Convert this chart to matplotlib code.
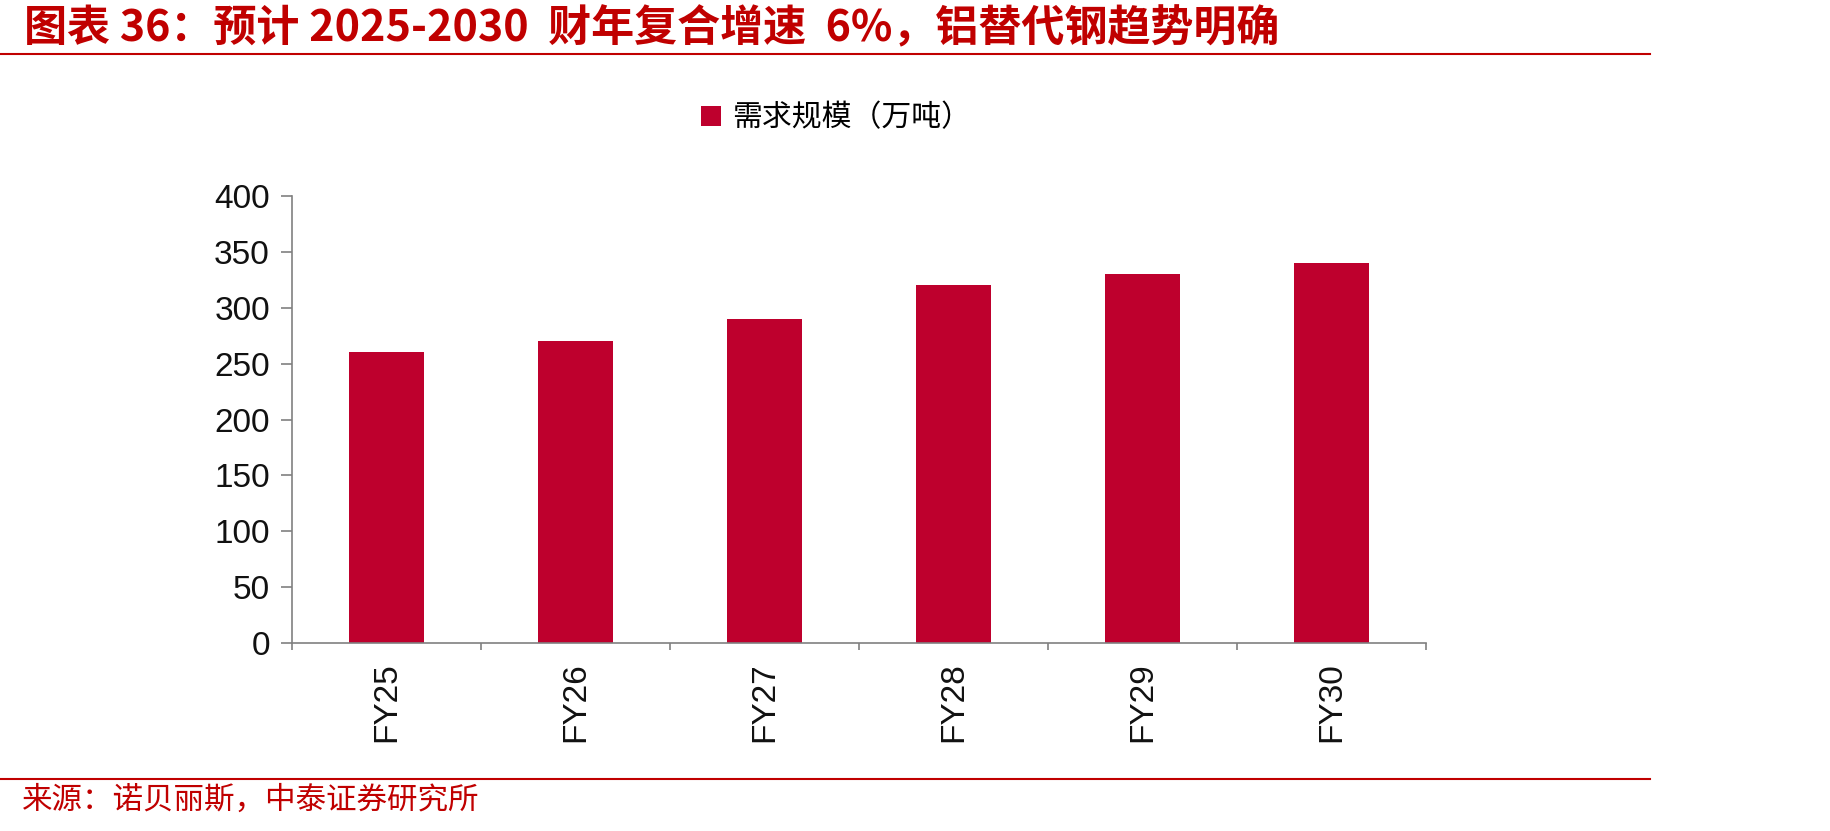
import matplotlib
matplotlib.use("Agg")
import matplotlib.pyplot as plt
from matplotlib.lines import Line2D
from matplotlib.patches import Patch
import numpy as np

plt.rcParams['font.family'] = ['Liberation Sans', 'Noto Sans CJK SC', 'DejaVu Sans']

categories = ["FY25", "FY26", "FY27", "FY28", "FY29", "FY30"]
values = [260, 270, 290, 320, 330, 340]
yticks = [0, 50, 100, 150, 200, 250, 300, 350, 400]
series_name = "需求规模（万吨）"
title = "图表 36：预计 2025-2030  财年复合增速  6%，铝替代钢趋势明确"
source = "来源：诺贝丽斯，中泰证券研究所"

RED = '#C00000'
BAR = '#BE002D'

fig = plt.figure(figsize=(18.3, 8.31), dpi=100)
ax = fig.add_axes([0.1596, 0.2262, 0.6197, 0.5379])

x = np.arange(len(categories))
ax.bar(x, values, width=0.40, color=BAR, label=series_name, zorder=2)

ax.set_xlim(-0.5, len(categories) - 0.5)
ax.set_ylim(0, 400)
ax.set_yticks(yticks)
ax.set_yticklabels([str(v) for v in yticks], fontsize=24, color='#111111')
ax.set_xticks(x)
ax.set_xticklabels(categories, rotation=90, fontsize=24, color='#111111')
ax.set_xticks(np.arange(len(categories) + 1) - 0.5, minor=True)
ax.tick_params(axis='x', which='major', length=0, pad=14)
ax.tick_params(axis='x', which='minor', length=5, color='#808080', width=1.2, direction='out')
ax.tick_params(axis='y', length=8, color='#808080', width=1.2, direction='out', pad=8)

for s in ['top', 'right']:
    ax.spines[s].set_visible(False)
for s in ['left', 'bottom']:
    ax.spines[s].set_color('#808080')
    ax.spines[s].set_linewidth(1.2)

handle = Patch(facecolor=BAR, edgecolor='none')
fig.legend([handle], [series_name], loc='center', bbox_to_anchor=(0.457, 0.858),
           frameon=False, handlelength=0.65, handleheight=0.65,
           handletextpad=0.4, prop={'family': ['Noto Sans CJK SC'], 'size': 21.5})

fig.text(0.013, 0.966, title, fontsize=31, fontweight='bold', style='italic',
         color=RED, ha='left', va='center', family=['Noto Sans CJK SC', 'DejaVu Sans'])
fig.add_artist(Line2D([0, 0.9016], [0.935, 0.935], color=RED, lw=1.5, transform=fig.transFigure))
fig.add_artist(Line2D([0, 0.9016], [0.0626, 0.0626], color=RED, lw=1.5, transform=fig.transFigure))
fig.text(0.012, 0.037, source, fontsize=22, color=RED, ha='left', va='center',
         family=['Noto Sans CJK SC', 'DejaVu Sans'])

fig.savefig("out.png", dpi=100)
